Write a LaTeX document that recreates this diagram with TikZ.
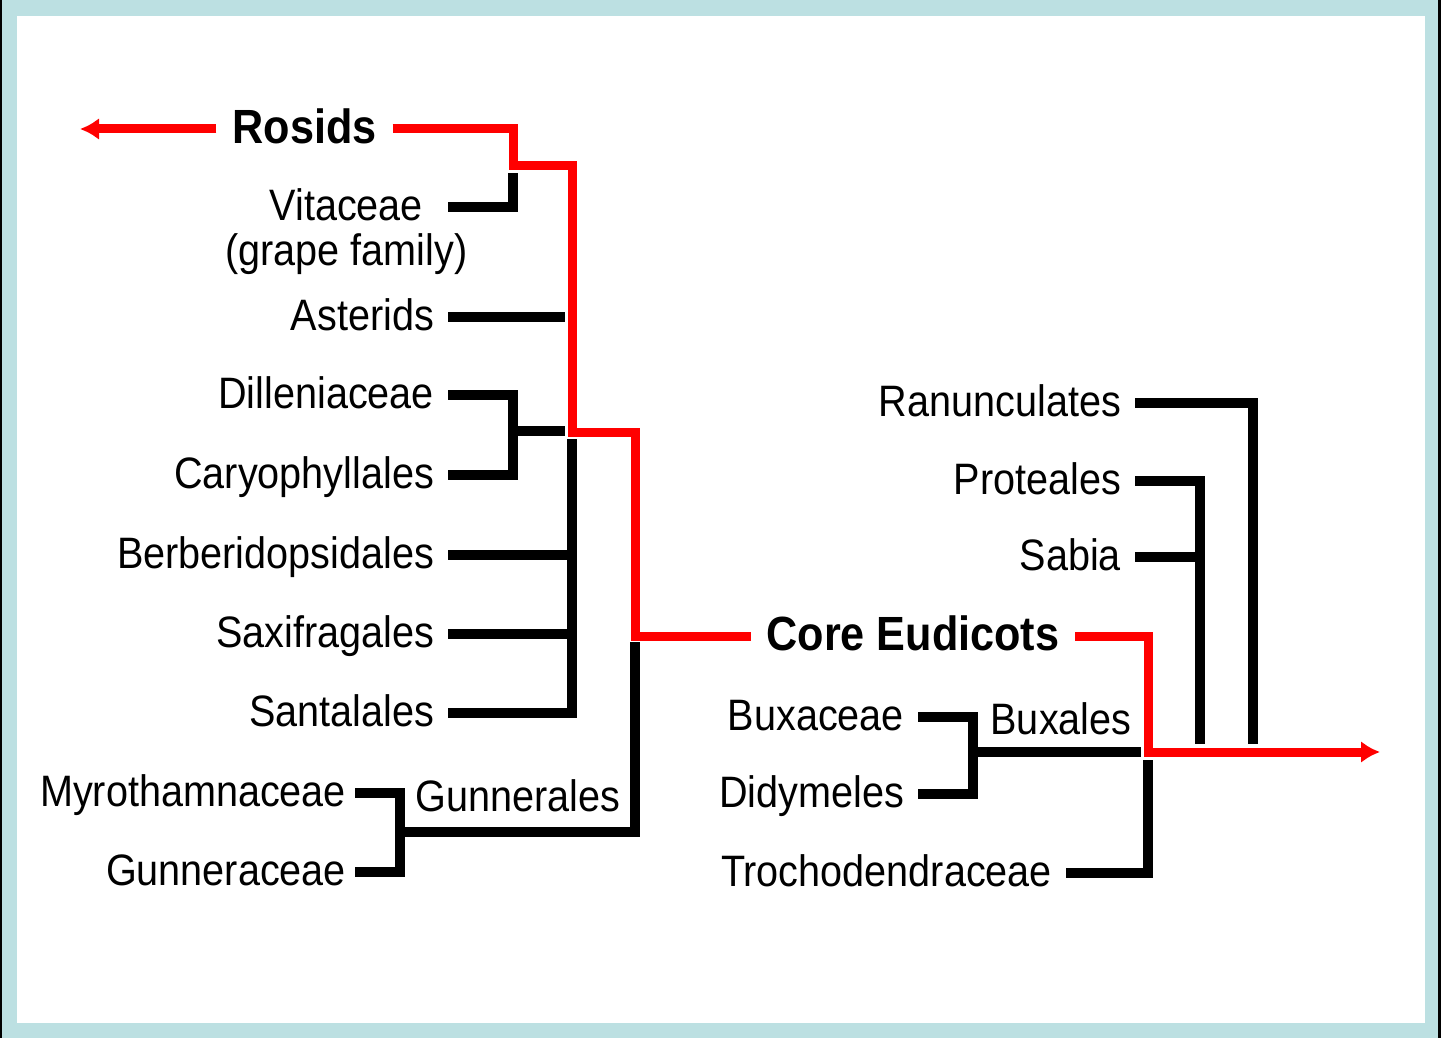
\documentclass[tikz,border=0pt]{standalone}
\usepackage{fontspec}
\setmainfont[FakeStretch=0.9]{Liberation Sans}
\usetikzlibrary{arrows.meta,positioning}
\definecolor{frameblue}{RGB}{188,224,226}
\definecolor{cladered}{RGB}{255,0,0}

\begin{document}
\begin{tikzpicture}[x=0.5pt,y=-0.5pt,
  taxon/.style={font=\fontsize{22}{26}\selectfont, anchor=east, inner xsep=7pt, inner ysep=0pt, outer sep=0pt, text height=15.5pt, text depth=2pt},
  clade/.style={font=\fontsize{24}{28}\selectfont\bfseries, inner xsep=8pt, inner ysep=0pt, outer sep=0pt, text height=16.5pt, text depth=2pt},
  branch/.style={line width=5pt, black},
  lineage/.style={line width=4.5pt, cladered},
  tip/.style={-{Latex[length=9.5pt,width=11pt]}}]

%frame
\fill[black] (0,0) rectangle (1441,1038);
\fill[frameblue] (2,0) rectangle (1438,1038);
\fill[white] (17,16) rectangle (1425,1023);

%left side
\node[clade] (rosids) at (304.5,129) {Rosids};
\node[taxon, inner xsep=12.5pt] (vit) at (448,207) {Vitaceae};
\node[taxon, anchor=north, inner xsep=0pt, below=5pt of vit] (grape) {(grape family)};
\node[taxon] (ast) at (448,317) {Asterids};
\node[taxon] (dil) at (448,395) {Dilleniaceae};
\node[taxon] (cary) at (448,475) {Caryophyllales};
\node[taxon] (berb) at (448,555) {Berberidopsidales};
\node[taxon] (saxi) at (448,634) {Saxifragales};
\node[taxon] (santa) at (448,713) {Santalales};
\node[taxon, inner xsep=4.5pt] (myro) at (355,793) {Myrothamnaceae};
\node[taxon, inner xsep=4.5pt] (gunc) at (355,872) {Gunneraceae};
\node[taxon, anchor=center] (gunl) at (518,798) {Gunnerales};

%right side
\node[taxon] (ranun) at (1135,403) {Ranunculates};
\node[taxon] (prot) at (1135,481) {Proteales};
\node[taxon] (sabia) at (1135,557) {Sabia};
\node[clade] (core) at (913,636) {Core Eudicots};
\node[taxon] (buxc) at (918,717) {Buxaceae};
\node[taxon] (didy) at (918,794) {Didymeles};
\node[taxon] (troch) at (1066,873) {Trochodendraceae};
\node[taxon, anchor=center] (buxl) at (1061,721) {Buxales};

%junctions
\coordinate (rosTip) at (80,129);
\coordinate (k1) at (513,166);
\coordinate (k2) at (572,432);
\coordinate (k3) at (635,636);
\coordinate (k4) at (1148,752);
\coordinate (eudTip) at (1380,752);
\coordinate (vTop) at (513,173);
\coordinate (aEnd) at (565,317);
\coordinate (jDil) at (513,431);
\coordinate (dEnd) at (565,431);
\coordinate (cTop) at (572,439);
\coordinate (jGun) at (400,832);
\coordinate (gTop) at (635,642);
\coordinate (rBot) at (1253,744);
\coordinate (pBot) at (1200,744);
\coordinate (jBux) at (973,752);
\coordinate (bEnd) at (1141,752);
\coordinate (tTop) at (1148,760);

%black branches
\draw[branch] (vit.east) -| (vTop);
\draw[branch] (ast.east) -- (aEnd);
\draw[branch] (dil.east) -| (jDil) |- (cary.east);
\draw[branch] (jDil) -- (dEnd);
\draw[branch] (santa.east) -| (cTop);
\draw[branch] (berb.east) -- (berb.east -| cTop);
\draw[branch] (saxi.east) -- (saxi.east -| cTop);
\draw[branch] (myro.east) -| (jGun) |- (gunc.east);
\draw[branch] (jGun) -| (gTop);

\draw[branch] (ranun.east) -| (rBot);
\draw[branch] (prot.east) -| (pBot);
\draw[branch] (sabia.east) -- (sabia.east -| pBot);
\draw[branch] (buxc.east) -| (jBux) |- (didy.east);
\draw[branch] (jBux) -- (bEnd);
\draw[branch] (troch.east) -| (tTop);

%red line
\draw[lineage, tip] (rosids.west) -- (rosTip);
\draw[lineage] (rosids.east) -| (k1) -| (k2) -| (k3) -- (core.west);
\draw[lineage, tip] (core.east) -| (k4) -- (eudTip);

\end{tikzpicture}
\end{document}
